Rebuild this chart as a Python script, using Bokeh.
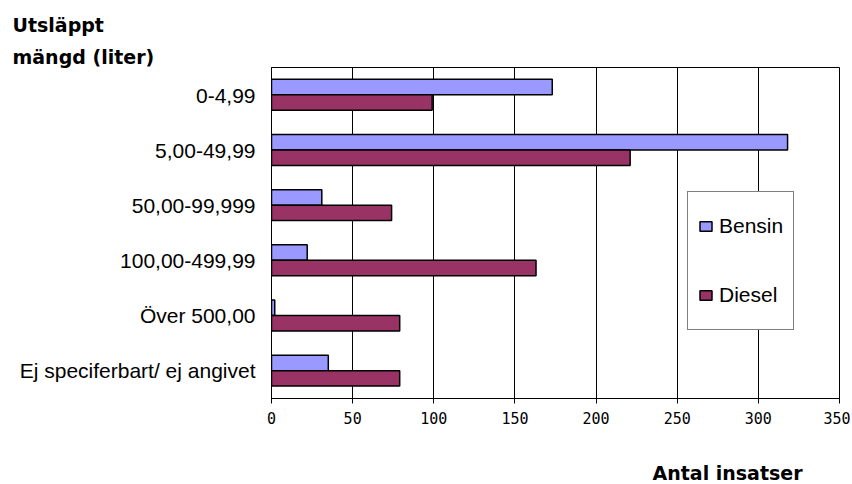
from bokeh.plotting import figure
from bokeh.models import (ColumnDataSource, FactorRange, FixedTicker, Legend, LegendItem, Title, LinearAxis)
from bokeh.transform import dodge
from bokeh.embed import file_html
from bokeh.resources import INLINE

categories = ["0-4,99", "5,00-49,99", "50,00-99,999", "100,00-499,99", "Över 500,00", "Ej speciferbart/ ej angivet"]
bensin = [173, 318, 31, 22, 2, 35]
diesel = [99, 221, 74, 163, 79, 79]
x_ticks = [0, 50, 100, 150, 200, 250, 300, 350]
x_tick_labels = ["0", "50", "100", "150", "200", "250", "300", "350"]

src = ColumnDataSource(dict(cat=categories, bensin=bensin, diesel=diesel))

W, H = 850, 484
p = figure(width=W, height=H, output_backend="svg", toolbar_location=None,
           y_range=FactorRange(factors=list(reversed(categories)), range_padding=0),
           x_range=(0, 350),
           min_border_left=271, min_border_right=W - 839, min_border_top=67, min_border_bottom=H - 398)
p.background_fill_color = "white"
p.border_fill_color = "white"
p.outline_line_color = "black"
p.outline_line_width = 1

rb = p.hbar(y=dodge("cat", 0.145, range=p.y_range), right="bensin", left=0, height=0.28, source=src,
            fill_color="#9999FF", line_color="black", line_width=1.5)
rd = p.hbar(y=dodge("cat", -0.135, range=p.y_range), right="diesel", left=0, height=0.28, source=src,
            fill_color="#993366", line_color="black", line_width=1.5)

# x axis
p.xaxis.ticker = FixedTicker(ticks=x_ticks)
p.xaxis.major_label_overrides = {t: l for t, l in zip(x_ticks, x_tick_labels)}
p.xaxis.minor_tick_line_color = None
p.xaxis.major_tick_in = 0
p.xaxis.major_tick_out = 5
p.xaxis.major_tick_line_color = "black"
p.xaxis.axis_line_color = "black"
p.xaxis.major_label_standoff = 8
p.xaxis.major_label_text_font = "DejaVu Sans Mono"
p.xaxis.major_label_text_font_size = "15px"
p.xaxis.major_label_text_color = "black"

p.xgrid.ticker = FixedTicker(ticks=x_ticks)
p.xgrid.grid_line_color = "black"
p.xgrid.grid_line_width = 1
p.ygrid.grid_line_color = None

# y axis
p.yaxis.major_tick_out = 0
p.yaxis.major_tick_in = 0
p.yaxis.axis_line_color = "black"
p.yaxis.major_label_standoff = 16
p.yaxis.major_label_text_font = "Liberation Sans"
p.yaxis.major_label_text_font_size = "21px"
p.yaxis.major_label_text_color = "black"

legend = Legend(items=[LegendItem(label="Bensin", renderers=[rb]),
                       LegendItem(label="Diesel", renderers=[rd])],
                location=(416, 68), padding=10, spacing=21, margin=0,
                label_height=48, glyph_width=15, glyph_height=12, label_standoff=6,
                label_text_font="Liberation Sans", label_text_font_size="21px",
                label_text_color="black",
                border_line_color="black", border_line_width=1.2,
                background_fill_color="white", background_fill_alpha=1)
p.add_layout(legend, "center")

# invisible spacer axis below the x axis, to push the x-axis title down
spacer = LinearAxis(ticker=FixedTicker(ticks=[0]), major_tick_out=33, major_tick_in=0,
                    minor_tick_out=0, minor_tick_in=0, major_label_standoff=0,
                    major_label_overrides={0: ""},
                    axis_line_color=None, major_tick_line_color=None, minor_tick_line_color=None)
p.add_layout(spacer, "below")

def mk_title(txt, offset, standoff):
    return Title(text=txt, align="left", offset=offset, standoff=standoff,
                 text_font="DejaVu Sans", text_font_style="bold", text_font_size="19px",
                 text_color="black")

p.add_layout(mk_title("mängd (liter)", -259, 0), "above")
p.add_layout(mk_title("Utsläppt", -259, 16), "above")
p.add_layout(mk_title("Antal insatser", 381, 0), "below")

open("out.html", "w").write(file_html(p, INLINE))
